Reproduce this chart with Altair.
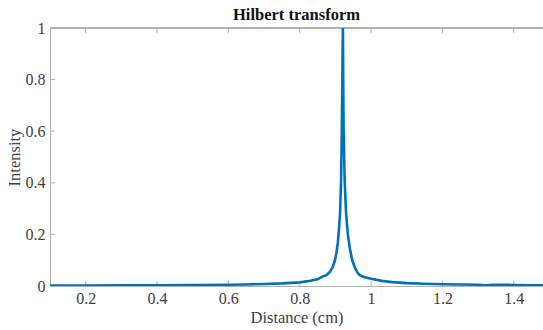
import altair as alt
import pandas as pd

# Hilbert transform envelope: distance (cm) vs normalised intensity
distance_cm = [0.10, 0.20, 0.30, 0.40, 0.50, 0.60, 0.65, 0.70, 0.75, 0.80,
               0.83, 0.85, 0.866, 0.875, 0.885, 0.893, 0.899, 0.903, 0.907, 0.910,
               0.913, 0.916, 0.918, 0.921, 0.923, 0.926, 0.930, 0.935, 0.940, 0.947,
               0.955, 0.962, 0.968, 0.980, 1.00, 1.03, 1.06, 1.10, 1.15, 1.20,
               1.25, 1.30, 1.32, 1.34, 1.40, 1.45, 1.50]
intensity = [0.002, 0.002, 0.003, 0.003, 0.004, 0.005, 0.006, 0.008, 0.010, 0.014,
             0.020, 0.026, 0.038, 0.042, 0.055, 0.075, 0.10, 0.13, 0.17, 0.22,
             0.28, 0.41, 0.60, 1.00, 0.62, 0.41, 0.28, 0.20, 0.15, 0.10,
             0.07, 0.052, 0.042, 0.035, 0.028, 0.020, 0.015, 0.011, 0.009, 0.007,
             0.006, 0.005, 0.003, 0.005, 0.004, 0.003, 0.003]

x_ticks = [0.2, 0.4, 0.6, 0.8, 1.0, 1.2, 1.4]
y_ticks = [0, 0.2, 0.4, 0.6, 0.8, 1.0]

W, H = 493, 258
FONT = "Liberation Serif"
AXIS_GRAY = "#b0b0b0"
TEXT_GRAY = "#404040"

df = pd.DataFrame({"d": distance_cm, "i": intensity})
xt = pd.DataFrame({"t": x_ticks})
yt = pd.DataFrame({"t": y_ticks})

x_scale = alt.Scale(domain=[0.1, 1.482], nice=False, zero=False)
y_scale = alt.Scale(domain=[0, 1], nice=False)

line = alt.Chart(df).mark_line(color="#0072BD", strokeWidth=2.6, clip=True).encode(
    x=alt.X("d:Q", scale=x_scale, title="Distance (cm)",
            axis=alt.Axis(values=x_ticks, format="~g", ticks=False, grid=False,
                          domainColor=AXIS_GRAY, labelFont=FONT, labelFontSize=16,
                          labelColor=TEXT_GRAY, labelPadding=4, titleFont=FONT,
                          titleFontSize=16.5, titleFontWeight="normal",
                          titleColor=TEXT_GRAY, titlePadding=3)),
    y=alt.Y("i:Q", scale=y_scale, title="Intensity",
            axis=alt.Axis(values=y_ticks, format=".1~f", ticks=False, grid=False,
                          domainColor=AXIS_GRAY, labelFont=FONT, labelFontSize=16,
                          labelColor=TEXT_GRAY, labelPadding=5, titleFont=FONT,
                          titleFontSize=16.5, titleFontWeight="normal",
                          titleColor=TEXT_GRAY, titlePadding=3)),
)

# inward tick marks on the bottom, top and left edges
bottom_ticks = alt.Chart(xt).mark_rule(color=AXIS_GRAY, strokeWidth=1).encode(
    x=alt.X("t:Q", scale=x_scale), y=alt.value(H), y2=alt.value(H - 5))
top_ticks = alt.Chart(xt).mark_rule(color=AXIS_GRAY, strokeWidth=1).encode(
    x=alt.X("t:Q", scale=x_scale), y=alt.value(0), y2=alt.value(5))
left_ticks = alt.Chart(yt).mark_rule(color=AXIS_GRAY, strokeWidth=1).encode(
    y=alt.Y("t:Q", scale=y_scale), x=alt.value(0), x2=alt.value(5))
top_border = alt.Chart(xt).mark_rule(color=AXIS_GRAY, strokeWidth=1).encode(
    x=alt.value(0), x2=alt.value(W), y=alt.value(0))

chart = alt.layer(top_border, bottom_ticks, top_ticks, left_ticks, line).properties(
    width=W, height=H,
    title=alt.TitleParams("Hilbert transform", font=FONT, fontSize=16.5,
                          fontWeight="bold", color="#111111", offset=-3,
                          anchor="middle"),
    autosize=alt.AutoSizeParams(type="none"),
    padding={"left": 50, "top": 28, "right": 0, "bottom": 44},
).configure_view(strokeWidth=0)

chart.save("out.html", embed_options={"renderer": "svg", "actions": False})
